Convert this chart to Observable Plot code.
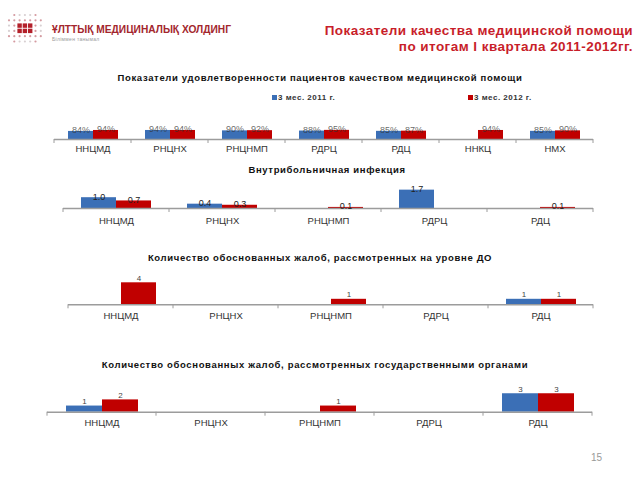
<!DOCTYPE html>
<html><head><meta charset="utf-8">
<script src="https://cdn.jsdelivr.net/npm/d3@7"></script>
<script src="https://cdn.jsdelivr.net/npm/@observablehq/plot@0.6"></script>
<style>
body{margin:0;background:#fff;font-family:Arial,"Liberation Sans",sans-serif;}
#page{position:relative;width:640px;height:480px;overflow:hidden;background:#fff;}
.abs{position:absolute;white-space:nowrap;line-height:1;}
.ptitle{font-weight:bold;font-size:9.5px;letter-spacing:0.65px;color:#111;transform:translate(-50%,-50%);}
.main{font-weight:bold;font-size:13.5px;color:#c81e2a;right:7px;text-align:right;transform:translateY(-50%);letter-spacing:0.45px;}
.leg{font-size:8px;font-weight:bold;color:#333;letter-spacing:0.5px;transform:translateY(-50%);}
.sw{position:absolute;width:5px;height:5px;}
.panel{position:absolute;left:0;}
</style></head><body><div id="page">
<svg id="logo" class="abs" style="left:0;top:0" width="50" height="50"></svg>
<div class="abs" style="left:52px;top:25px;font-size:10.2px;font-weight:bold;color:#a3262d;letter-spacing:0px;">ҰЛТТЫҚ МЕДИЦИНАЛЫҚ ХОЛДИНГ</div>
<div class="abs" style="left:52px;top:37px;font-size:5px;color:#9a9a9a;letter-spacing:0.3px;">Біліммен танымал</div>
<div class="abs main" style="top:31px;">Показатели качества медицинской помощи</div>
<div class="abs main" style="top:47px;">по итогам I квартала 2011-2012гг.</div>

<div class="abs ptitle" style="left:320px;top:78px;">Показатели удовлетворенности пациентов качеством медицинской помощи</div>
<div class="sw" style="left:272px;top:95px;background:#3b6fb6"></div>
<div class="abs leg" style="left:278px;top:98px;">3 мес. 2011 г.</div>
<div class="sw" style="left:468px;top:95px;background:#c00000"></div>
<div class="abs leg" style="left:474px;top:98px;">3 мес. 2012 г.</div>
<div id="p1" class="panel" style="top:110px"></div>

<div class="abs ptitle" style="left:327px;top:170px;">Внутрибольничная инфекция</div>
<div id="p2" class="panel" style="top:175px"></div>

<div class="abs ptitle" style="left:320px;top:258px;">Количество обоснованных жалоб, рассмотренных на уровне ДО</div>
<div id="p3" class="panel" style="top:270px"></div>

<div class="abs ptitle" style="left:315px;top:365px;">Количество обоснованных жалоб, рассмотренных государственными органами</div>
<div id="p4" class="panel" style="top:375px"></div>

<div class="abs" style="left:591px;top:453px;font-size:10px;color:#999;">15</div>
</div>
<script>
// ---- data ----
const series = ["3 мес. 2011 г.", "3 мес. 2012 г."];
const seriesColors = ["#3b6fb6", "#c00000"];

const satCats = ["ННЦМД", "РНЦНХ", "РНЦНМП", "РДРЦ", "РДЦ", "ННКЦ", "НМХ"];
const sat2011 = [0.84, 0.94, 0.90, 0.88, 0.85, null, 0.85];
const sat2012 = [0.94, 0.94, 0.92, 0.95, 0.87, 0.94, 0.90];

const infCats = ["ННЦМД", "РНЦНХ", "РНЦНМП", "РДРЦ", "РДЦ"];
const inf2011 = [1.0, 0.4, null, 1.7, null];
const inf2012 = [0.7, 0.3, 0.1, null, 0.1];

const compCats = ["ННЦМД", "РНЦНХ", "РНЦНМП", "РДРЦ", "РДЦ"];
const compDO2011 = [null, null, null, null, 1];
const compDO2012 = [4, null, 1, null, 1];
const compGov2011 = [1, null, null, null, 3];
const compGov2012 = [2, null, 1, null, 3];

// ---- logo (decorative) ----
(function(){
  const g = d3.select("#logo");
  for (let j = 0; j < 6; j++) for (let i = 0; i < 7; i++) {
    const x = 9 + i * 5.3, y = 15 + j * 5.3;
    const inner = i >= 2 && i <= 4 && j >= 2 && j <= 3;
    const corner = (i === 0 || i === 6) && (j === 0 || j === 5);
    if (corner) continue;
    if (inner) g.append("rect").attr("x", x - 2.2).attr("y", y - 2.2).attr("width", 4.4).attr("height", 4.4).attr("fill", "#b3202a");
    else g.append("circle").attr("cx", x).attr("cy", y).attr("r", 1.1).attr("fill", (i===1||i===5||j===1||j===4) ? "#d49aa0" : "#d8d0d2");
  }
})();

function panel(el, cats, a, b, o) {
  const data = [];
  cats.forEach((c, i) => {
    if (a[i] != null) data.push({cat: c, s: series[0], v: a[i]});
    if (b[i] != null) data.push({cat: c, s: series[1], v: b[i]});
  });
  const plot = Plot.plot({
    width: 640, height: o.h,
    marginLeft: o.ml, marginRight: o.mr, marginTop: o.mt, marginBottom: o.mb,
    style: {fontFamily: "Arial, 'Liberation Sans', sans-serif", background: "transparent", overflow: "visible"},
    fx: {domain: cats, padding: 0, label: null},
    x: {domain: series, paddingInner: 0, paddingOuter: 0.5, axis: null},
    y: {domain: o.yd, axis: null},
    color: {domain: series, range: seriesColors},
    marks: [
      Plot.barY(data, {fx: "cat", x: "s", y: "v", fill: "s"}),
      Plot.ruleY(cats, {fx: d => d, y: () => 0, stroke: "#9c9c9c", strokeWidth: 1.5}),
      Plot.text(data, {fx: "cat", x: "s", y: "v", text: d => o.fmt(d.v), lineAnchor: "bottom",
        dy: o.ldy, fontSize: o.lfs, fill: o.lfill, fillOpacity: o.lop || 1}),
      Plot.axisFx({anchor: "bottom", tickSize: 0, tickPadding: o.pad, fontSize: 9.5, fill: "#333", label: null})
    ]
  });
  document.getElementById(el).appendChild(plot);
  // category boundary ticks, from the plot's own fx scale
  const fx = plot.scale("fx"), y = plot.scale("y");
  const y0 = y.apply(0);
  const edges = cats.map(c => fx.apply(c)).concat([fx.apply(cats[cats.length - 1]) + fx.bandwidth]);
  d3.select(plot).append("g").selectAll("line").data(edges).join("line")
    .attr("x1", d => d).attr("x2", d => d).attr("y1", y0).attr("y2", y0 + 4)
    .attr("stroke", "#9c9c9c").attr("stroke-width", 1);
}

panel("p1", satCats, sat2011, sat2012, {h: 50, ml: 53, mr: 46, mt: 19.4, mb: 21, yd: [0, 1],
  fmt: d3.format(".0%"), ldy: 1.5, lfs: 9, lfill: "#333", lop: 0.75, pad: 6});
panel("p2", infCats, inf2011, inf2012, {h: 50, ml: 62, mr: 47, mt: 11.4, mb: 17, yd: [0, 2],
  fmt: d3.format(".1f"), ldy: 2, lfs: 9, lfill: "#222", pad: 8.5});
panel("p3", compCats, compDO2011, compDO2012, {h: 50, ml: 67, mr: 47, mt: 6.8, mb: 15.7, yd: [0, 5],
  fmt: d3.format("d"), ldy: -2, lfs: 8, lfill: "#444", pad: 7});
panel("p4", compCats, compGov2011, compGov2012, {h: 55, ml: 47, mr: 48, mt: 12.1, mb: 18.3, yd: [0, 4],
  fmt: d3.format("d"), ldy: -2, lfs: 8, lfill: "#444", pad: 7.5});
</script>
</body></html>
